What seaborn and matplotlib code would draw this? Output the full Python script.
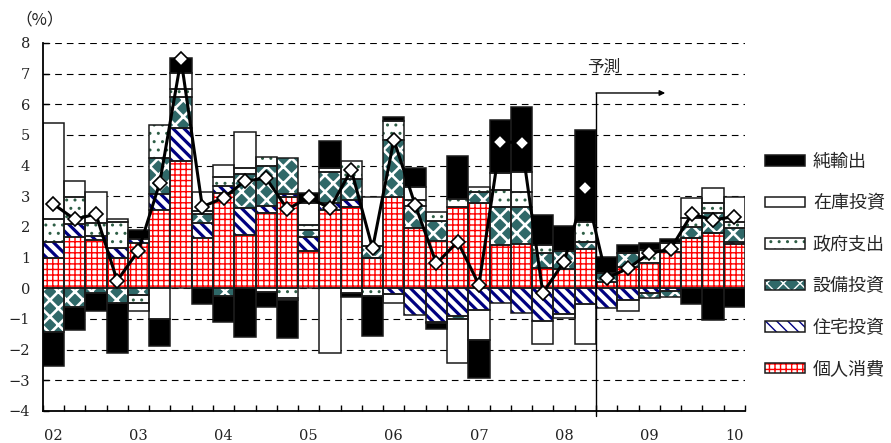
import matplotlib
matplotlib.use("Agg")
import matplotlib.pyplot as plt
import numpy as np
import pandas as pd
import seaborn as sns
from matplotlib.patches import Patch

# Contributions to real GDP growth (annualised q/q, %), 2002Q1 - 2010Q1
year_labels = ["02", "03", "04", "05", "06", "07", "08", "09", "10"]

consumption = [1.00, 1.66, 1.57, 0.98, 1.49, 2.55, 4.16, 1.63, 3.10, 1.74, 2.47,
               2.99, 1.23, 2.55, 2.64, 1.00, 2.97, 1.96, 1.55, 2.64, 2.77, 1.41,
               1.44, 0.65, 0.62, 1.27, 0.22, 0.68, 0.84, 1.19, 1.63, 1.79, 1.44]
housing = [0.52, 0.43, 0.13, 0.32, 0.13, 0.52, 1.08, 0.51, 0.24, 0.87, 0.21,
           0.08, 0.45, 0.22, 0.24, 0.00, -0.19, -0.87, -1.09, -0.90, -0.71, -0.47,
           -0.82, -1.06, -0.85, -0.51, -0.63, -0.38, -0.15, -0.08, 0.00, 0.00, 0.08]
capex = [-1.41, -0.62, -0.15, -0.47, -0.22, 1.17, 0.99, 0.28, -0.25, 1.12, 1.31,
         1.19, 0.22, 1.03, 0.67, 0.38, 1.87, 0.72, 0.65, -0.11, 0.38, 1.23,
         1.20, 0.49, 0.61, 0.25, 0.27, 0.46, -0.18, -0.19, 0.38, 0.66, 0.44]
government = [0.75, 0.88, 0.42, 0.87, -0.27, 1.08, 0.26, 0.10, 0.28, 0.18, 0.30,
              -0.33, 0.16, 0.11, 0.61, -0.24, 0.63, 0.20, 0.30, 0.26, 0.16, 0.56,
              0.51, 0.27, 0.00, 0.65, 0.00, 0.00, 0.41, 0.28, 0.27, 0.32, 0.21]
inventory = [3.13, 0.52, 1.02, 0.08, -0.24, -1.01, 0.52, 0.63, 0.40, 1.20, -0.11,
             -0.05, 0.71, -2.10, -0.16, 1.60, -0.28, 0.41, -0.05, -1.41, -0.98, 0.55,
             0.65, -0.77, -0.11, -1.32, 0.00, -0.35, 0.00, 0.00, 0.65, 0.49, 0.80]
net_exports = [-1.11, -0.74, -0.58, -1.65, 0.28, -0.86, 0.51, -0.51, -0.84, -1.60, -0.51,
               -1.23, 0.33, 0.90, -0.11, -1.32, 0.13, 0.62, -0.19, 1.41, -1.24, 1.74,
               2.12, 0.98, 0.80, 2.99, 0.54, 0.27, 0.24, 0.13, -0.51, -1.03, -0.62]
gdp_growth = [2.75, 2.25, 2.42, 0.25, 1.23, 3.44, 7.47, 2.66, 2.95, 3.50, 3.59,
              2.58, 2.97, 2.61, 3.86, 1.30, 4.84, 2.72, 0.81, 1.52, 0.12, 4.78,
              4.75, -0.15, 0.87, 3.28, 0.33, 0.65, 1.14, 1.28, 2.42, 2.23, 2.34]

# (label, values, face colour, hatch, hatch colour, hatch width)
components = [
    ("個人消費", consumption, "white", "+++", "#ff0000", 1.0),
    ("住宅投資", housing, "white", "\\\\\\", "#000080", 2.3),
    ("設備投資", capex, "#2f6868", "xx", "white", 1.9),
    ("政府支出", government, "white", "..", "#2e5e46", 1.0),
    ("在庫投資", inventory, "white", None, "white", 1.0),
    ("純輸出", net_exports, "black", None, "black", 1.0),
]

sns.set_style("ticks")
plt.rcParams["font.family"] = ["DejaVu Serif"]
plt.rcParams["axes.unicode_minus"] = True
CJK = ["Noto Sans CJK JP", "DejaVu Sans"]
OUTLINE = "#1a1a1a"

W, H = 891, 443
fig = plt.figure(figsize=(W / 100, H / 100), dpi=100)
x0, x1, ytop, ybot = 42.7, 745.0, 43.0, 411.0
ax = fig.add_axes([x0 / W, 1 - ybot / H, (x1 - x0) / W, (ybot - ytop) / H])

positions = np.arange(len(consumption))
pos_base = np.zeros(len(positions))
neg_base = np.zeros(len(positions))


def set_hatch_width(patch, lw):
    if hasattr(patch, "set_hatch_linewidth"):
        patch.set_hatch_linewidth(lw)


for label, values, face, hatch, hcol, hlw in components:
    vals = np.asarray(values, dtype=float)
    bottom = np.where(vals >= 0, pos_base, neg_base)
    df = pd.DataFrame({"quarter": positions, "value": vals})
    # filled / hatched layer
    sns.barplot(data=df, x="quarter", y="value", bottom=bottom, native_scale=True,
                width=1.0, errorbar=None, saturation=1, color="white", ax=ax)
    for p in ax.containers[-1]:
        p.set_facecolor(face)
        p.set_edgecolor(hcol)
        p.set_linewidth(0)
        if hatch:
            p.set_hatch(hatch)
            set_hatch_width(p, hlw)
        p.set_zorder(2)
    # outline layer
    sns.barplot(data=df, x="quarter", y="value", bottom=bottom, native_scale=True,
                width=1.0, errorbar=None, saturation=1, color="white", ax=ax)
    for p in ax.containers[-1]:
        p.set_facecolor("none")
        p.set_edgecolor(OUTLINE)
        p.set_linewidth(1.1)
        p.set_zorder(3)
    pos_base = pos_base + np.clip(vals, 0, None)
    neg_base = neg_base + np.clip(vals, None, 0)

# real GDP growth
sns.lineplot(x=positions, y=gdp_growth, ax=ax, color="black", linewidth=2.2,
             marker="D", markersize=7, markerfacecolor="white",
             markeredgecolor="black", markeredgewidth=1.2, zorder=6)

ax.set_xlim(-0.5, len(positions) - 0.5)
ax.set_ylim(-4, 8)
ax.set_xlabel("")
ax.set_ylabel("")

ax.set_xticks(np.arange(0, len(positions), 4))
ax.set_xticklabels(year_labels)
ax.set_xticks(np.arange(-0.5, len(positions), 1), minor=True)
ax.tick_params(axis="x", which="major", length=0, pad=13, labelsize=10.5)
ax.tick_params(axis="x", which="minor", direction="in", length=4.5, width=1, color="black")
ax.set_yticks(np.arange(-4, 9, 1))
ax.tick_params(axis="y", which="major", direction="in", length=4.5, width=1,
               pad=9, labelsize=10.5, color="black")
for lbl in ax.get_xticklabels() + ax.get_yticklabels():
    lbl.set_color("#222222")

ax.set_axisbelow(True)
ax.yaxis.grid(True, linestyle=(0, (6, 4.5)), color="black", linewidth=0.8)
ax.xaxis.grid(False)
for side in ("top", "right"):
    ax.spines[side].set_visible(False)
for side in ("left", "bottom"):
    ax.spines[side].set_color("black")
    ax.spines[side].set_linewidth(1.3)
    ax.spines[side].set_zorder(7)

# forecast marker
ax.plot([25.5, 25.5], [-4.15, 6.37], color="black", linewidth=1, clip_on=False, zorder=7)
ax.annotate("", xy=(28.75, 6.37), xytext=(25.5, 6.37),
            arrowprops=dict(arrowstyle="-|>", color="black", lw=1,
                            mutation_scale=8, shrinkA=0, shrinkB=0), zorder=7)
ax.text(25.85, 7.2, "予測", fontsize=12, family=CJK, ha="center", va="center")

fig.text(40 / W, 1 - 20 / H, "（%）", fontsize=12, family=CJK, ha="center", va="center",
         color="#222222")

# legend, top entry first
handles, labels = [], []
for label, values, face, hatch, hcol, hlw in reversed(components):
    fill = Patch(facecolor=face, edgecolor=hcol, linewidth=0, hatch=hatch)
    if hatch:
        set_hatch_width(fill, hlw)
    edge = Patch(facecolor="none", edgecolor=OUTLINE, linewidth=1.1)
    handles.append((fill, edge))
    labels.append(label)
leg = ax.legend(handles, labels, loc="upper left", bbox_to_anchor=(765 / W, 1 - 153 / H),
                bbox_transform=fig.transFigure, frameon=False, borderpad=0,
                borderaxespad=0, handlelength=2.2, handleheight=0.5,
                handletextpad=0.45, labelspacing=1.3, prop={"family": CJK, "size": 13})

fig.savefig("out.png", dpi=100)
